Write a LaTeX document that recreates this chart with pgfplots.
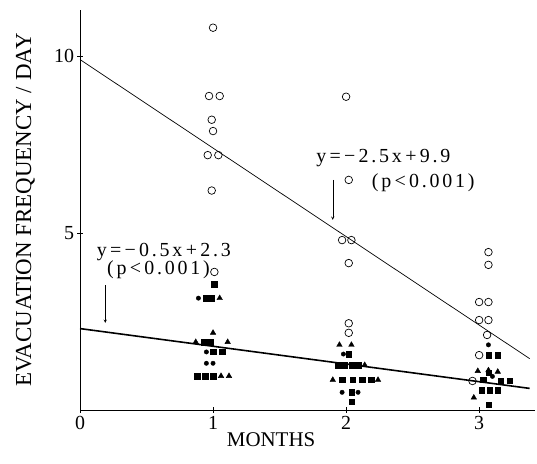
\documentclass[border=0pt]{standalone}
\usepackage{pgfplots}
\pgfplotsset{compat=1.18}
\usepackage{fontspec}
\setmainfont{Liberation Serif}
\newfontfamily\annfont[LetterSpace=14]{Liberation Serif}
\begin{document}
\begin{tikzpicture}
\useasboundingbox (-80bp,-54bp) rectangle (457bp,410bp);
\begin{axis}[
  at={(0,0)}, anchor=south west,
  scale only axis, width=455bp, height=400bp,
  xmin=0, xmax=3.42, ymin=0, ymax=11.3,
  axis x line*=bottom, axis y line*=left,
  clip=false,
  xtick={0,1,2,3}, ytick={5,10},
  tick align=center, major tick length=5bp,
  tick style={black, line width=0.6pt},
  axis line style={line width=0.8pt},
  /pgf/number format/assume math mode=true,
  tick label style={font=\fontsize{20}{22}\selectfont},
  xlabel={MONTHS}, ylabel={EVACUATION FREQUENCY / DAY},
  xlabel style={font=\fontsize{21}{23}\selectfont, at={(axis description cs:0.42,-0.075)}, anchor=center},
  ylabel style={font=\fontsize{23}{25}\selectfont, at={(axis description cs:-0.12,0.5)}, anchor=center},
]
% regression lines
\addplot[black, line width=0.7pt] coordinates {(0,9.9) (3.38,1.45)};
\addplot[black, line width=1.6pt] coordinates {(0,2.3) (3.38,0.61)};
% open circles
\addplot[only marks, mark=o, mark size=3.8bp, mark options={line width=0.7pt}] coordinates {
 (1.00,10.8) (0.97,8.87) (1.05,8.87) (0.99,8.2) (1.00,7.88) (0.96,7.2) (1.04,7.2) (0.99,6.2) (1.01,3.9)
 (2.00,8.85) (2.02,6.5) (1.97,4.8) (2.04,4.8) (2.02,4.15) (2.02,2.45) (2.02,2.18)
 (3.07,4.46) (3.07,4.1) (3.00,3.05) (3.07,3.05) (3.00,2.54) (3.07,2.54) (3.06,2.12) (3.00,1.55) (2.95,0.82)
};
% filled squares
\addplot[only marks, mark=square*, mark size=2.7bp] coordinates {
 (1.01,3.55) (0.95,3.16) (0.99,3.16) (0.93,1.92) (0.98,1.92) (1.00,1.64) (1.07,1.64)
 (0.88,0.96) (0.94,0.96) (1.00,0.96)
 (2.02,1.58) (1.94,1.27) (1.99,1.27) (2.04,1.27) (2.09,1.27)
 (1.97,0.85) (2.05,0.85) (2.12,0.85) (2.19,0.85) (2.04,0.5) (2.04,0.23)
 (3.07,1.55) (3.14,1.55) (3.07,1.05) (3.03,0.85) (3.16,0.82) (3.23,0.82)
 (3.02,0.56) (3.08,0.56) (3.14,0.56) (3.07,0.15)
};
% filled triangles
\addplot[only marks, mark=triangle*, mark size=3.2bp] coordinates {
 (1.05,3.16) (1.00,2.18) (0.87,1.92) (1.11,1.92) (1.06,0.96) (1.12,0.96)
 (1.95,1.84) (2.04,1.84) (2.14,1.27) (1.90,0.85) (2.24,0.85)
 (2.99,1.1) (3.07,1.12) (3.14,1.08) (2.96,0.35)
};
% filled circles
\addplot[only marks, mark=*, mark size=2.2bp] coordinates {
 (0.89,3.16) (0.95,1.64) (0.95,1.32) (1.00,1.32)
 (1.98,1.58) (1.97,0.5) (2.09,0.5)
 (3.07,1.84) (3.10,0.95)
};
% annotations
\node[font=\fontsize{20}{22}\annfont] at (axis cs:2.28,7.12) {y\,=\,−\,2.5x\,+\,9.9};
\node[font=\fontsize{20}{22}\annfont] at (axis cs:2.58,6.42) {(p\,<\,0.001)};
\draw[-stealth, line width=0.5pt] (axis cs:1.90,6.5) -- (axis cs:1.90,5.37);
\node[font=\fontsize{20}{22}\annfont] at (axis cs:0.63,4.46) {y\,=\,−\,0.5x\,+\,2.3};
\node[font=\fontsize{20}{22}\annfont] at (axis cs:0.59,3.95) {(p\,<\,0.001)};
\draw[-stealth, line width=0.5pt] (axis cs:0.19,3.53) -- (axis cs:0.19,2.46);
\end{axis}
\end{tikzpicture}
\end{document}
